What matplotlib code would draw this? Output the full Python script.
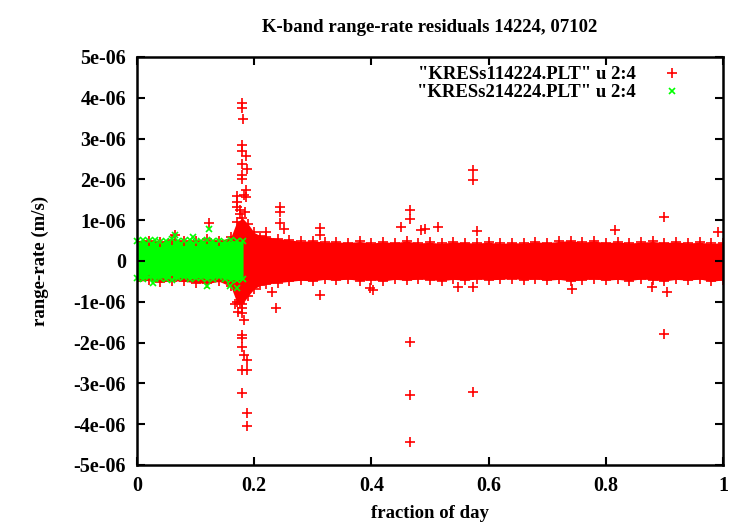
import numpy as np
import matplotlib.pyplot as plt

# envelope of the dense red band (units of 1e-6 m/s)
red_x = [0.00, 0.02, 0.04, 0.06, 0.08, 0.10, 0.12, 0.14, 0.16, 0.17, 0.18, 0.19,
         0.20, 0.21, 0.22, 0.24, 0.26, 0.28, 0.30, 0.32, 0.34, 0.36, 0.38, 0.40,
         0.42, 0.44, 0.46, 0.48, 0.50, 0.52, 0.54, 0.56, 0.58, 0.60, 0.62, 0.64,
         0.66, 0.68, 0.70, 0.72, 0.74, 0.76, 0.78, 0.80, 0.82, 0.84, 0.86, 0.88,
         0.90, 0.92, 0.94, 0.96, 0.98, 1.00]
red_top = [0.46, 0.50, 0.47, 0.52, 0.48, 0.50, 0.53, 0.50, 0.58, 0.95, 1.05, 0.90,
           0.70, 0.62, 0.60, 0.55, 0.52, 0.48, 0.50, 0.46, 0.47, 0.45, 0.48, 0.44,
           0.47, 0.45, 0.49, 0.44, 0.46, 0.43, 0.47, 0.45, 0.44, 0.46, 0.43, 0.45,
           0.44, 0.47, 0.45, 0.48, 0.50, 0.46, 0.49, 0.45, 0.47, 0.44, 0.46, 0.48,
           0.45, 0.47, 0.44, 0.46, 0.43, 0.45]
red_bot = [-0.50, -0.47, -0.52, -0.48, -0.50, -0.53, -0.55, -0.50, -0.62, -1.00, -1.05, -0.85,
           -0.68, -0.60, -0.57, -0.53, -0.50, -0.47, -0.49, -0.45, -0.47, -0.44, -0.48, -0.46,
           -0.49, -0.45, -0.47, -0.44, -0.46, -0.48, -0.45, -0.47, -0.44, -0.46, -0.45, -0.43,
           -0.46, -0.44, -0.47, -0.45, -0.49, -0.46, -0.44, -0.47, -0.45, -0.48, -0.44, -0.46,
           -0.49, -0.45, -0.47, -0.44, -0.50, -0.46]

# isolated red points (fraction of day, 1e-6 m/s)
red_out_x = [0.180, 0.180, 0.181, 0.180, 0.179, 0.186, 0.179, 0.187, 0.180, 0.180,
             0.186, 0.183, 0.186, 0.170, 0.170, 0.170, 0.176, 0.175, 0.185,
             0.176, 0.179, 0.180, 0.183, 0.237, 0.180, 0.180, 0.180, 0.183, 0.187,
             0.180, 0.187, 0.180, 0.187, 0.187, 0.168, 0.172,
             0.244, 0.244, 0.244, 0.250, 0.312, 0.312, 0.312, 0.220, 0.230,
             0.466, 0.466, 0.466, 0.466, 0.466, 0.574, 0.574, 0.574, 0.580, 0.451,
             0.514, 0.484, 0.491, 0.398, 0.403, 0.574, 0.548, 0.899, 0.815, 0.743,
             0.905, 0.991, 0.899, 0.879, 0.065, 0.123]
red_out_y = [3.87, 3.74, 3.48, 2.84, 2.70, 2.58, 2.37, 2.25, 2.11, 2.01,
             1.74, 1.62, 1.58, 1.59, 1.45, 1.33, 1.25, 1.15, 1.20,
             -1.04, -1.15, -1.27, -1.45, -1.16, -1.81, -1.89, -2.10, -2.30, -2.43,
             -2.67, -2.67, -3.23, -3.72, -4.04, -1.05, -1.25,
             1.33, 1.21, 0.92, 0.78, 0.80, 0.64, -0.83, 0.72, -0.75,
             1.25, 1.02, -1.98, -3.28, -4.43, 2.23, 1.99, -3.21, 0.74, 0.83,
             0.84, 0.76, 0.79, -0.67, -0.71, -0.63, -0.64, 1.07, 0.76, -0.69,
             -0.77, 0.72, -1.80, -0.63, 0.64, 0.92]

# envelope of the green band (units of 1e-6 m/s)
green_x = [0.000, 0.010, 0.020, 0.030, 0.040, 0.050, 0.060, 0.070, 0.080, 0.090,
           0.100, 0.110, 0.120, 0.130, 0.140, 0.150, 0.160, 0.170, 0.181]
green_top = [0.50, 0.52, 0.48, 0.51, 0.47, 0.50, 0.53, 0.49, 0.48, 0.51,
             0.47, 0.50, 0.52, 0.48, 0.50, 0.47, 0.51, 0.49, 0.48]
green_bot = [-0.42, -0.45, -0.40, -0.44, -0.41, -0.43, -0.46, -0.42, -0.40, -0.44,
             -0.42, -0.41, -0.45, -0.43, -0.40, -0.44, -0.46, -0.47, -0.45]
green_out_x = [0.123, 0.065, 0.119, 0.027, 0.159, 0.095, 0.170]
green_out_y = [0.78, 0.64, -0.61, -0.55, -0.61, 0.60, -0.65]

x_ticks = [0, 0.2, 0.4, 0.6, 0.8, 1]
x_labels = ["0", "0.2", "0.4", "0.6", "0.8", "1"]
y_ticks = [5e-6, 4e-6, 3e-6, 2e-6, 1e-6, 0, -1e-6, -2e-6, -3e-6, -4e-6, -5e-6]
y_labels = ["5e-06", "4e-06", "3e-06", "2e-06", "1e-06", "0",
            "-1e-06", "-2e-06", "-3e-06", "-4e-06", "-5e-06"]

plt.rcParams['font.family'] = ['Liberation Serif', 'DejaVu Serif']
plt.rcParams['font.weight'] = 'bold'
plt.rcParams['font.size'] = 13.5

RED = '#ff0000'
GREEN = '#00ff00'
S = 1e-6

fig = plt.figure(figsize=(7.5, 5.25), dpi=100)
ax = fig.add_axes([137/750, 1-465/525, 586/750, 408/525])

rx = np.array(red_x)
ax.fill_between(rx, np.array(red_bot)*S, np.array(red_top)*S, color=RED, lw=0)
mk = dict(ls='none', marker='+', ms=6.5, mew=1.2, color=RED)
ax.plot(rx, np.array(red_top)*S, **mk)
ax.plot(rx, np.array(red_bot)*S, **mk)
h1, = ax.plot(np.array(red_out_x), np.array(red_out_y)*S,
              label='"KRESs114224.PLT" u 2:4', **mk)

gx = np.array(green_x)
ax.fill_between(gx, np.array(green_bot)*S, np.array(green_top)*S, color=GREEN, lw=0)
gk = dict(ls='none', marker='x', ms=5.0, mew=1.2, color=GREEN)
ax.plot(gx, np.array(green_top)*S, clip_on=False, **gk)
ax.plot(gx, np.array(green_bot)*S, clip_on=False, **gk)
h2, = ax.plot(np.array(green_out_x), np.array(green_out_y)*S,
              label='"KRESs214224.PLT" u 2:4', **gk)

ax.set_xlim(0, 1)
ax.set_ylim(-5e-6, 5e-6)
ax.set_xticks(x_ticks)
ax.set_xticklabels(x_labels)
ax.set_yticks(y_ticks)
ax.set_yticklabels(y_labels)
ax.tick_params(direction='in', length=6, width=1.5, top=True, right=True,
               labelsize=14.5)
ax.tick_params(axis='x', pad=8)
ax.tick_params(axis='y', pad=8)
for sp in ax.spines.values():
    sp.set_linewidth(1.8)

fig.text(430/750, 1-28/525, 'K-band range-rate residuals 14224, 07102',
         ha='center', va='center')
fig.text(430/750, 1-513/525, 'fraction of day', ha='center', va='center')
fig.text(40/750, 1-261/525, 'range-rate (m/s)', ha='center', va='center',
         rotation=90)

ax.legend(handles=[h1, h2], loc='upper right', bbox_to_anchor=(694/750, 1-66/525),
          bbox_transform=fig.transFigure, frameon=False, markerfirst=False,
          handletextpad=0.8, handlelength=2.3, borderpad=0, borderaxespad=0,
          labelspacing=0.05, numpoints=1)

fig.savefig('out.png', dpi=100)
